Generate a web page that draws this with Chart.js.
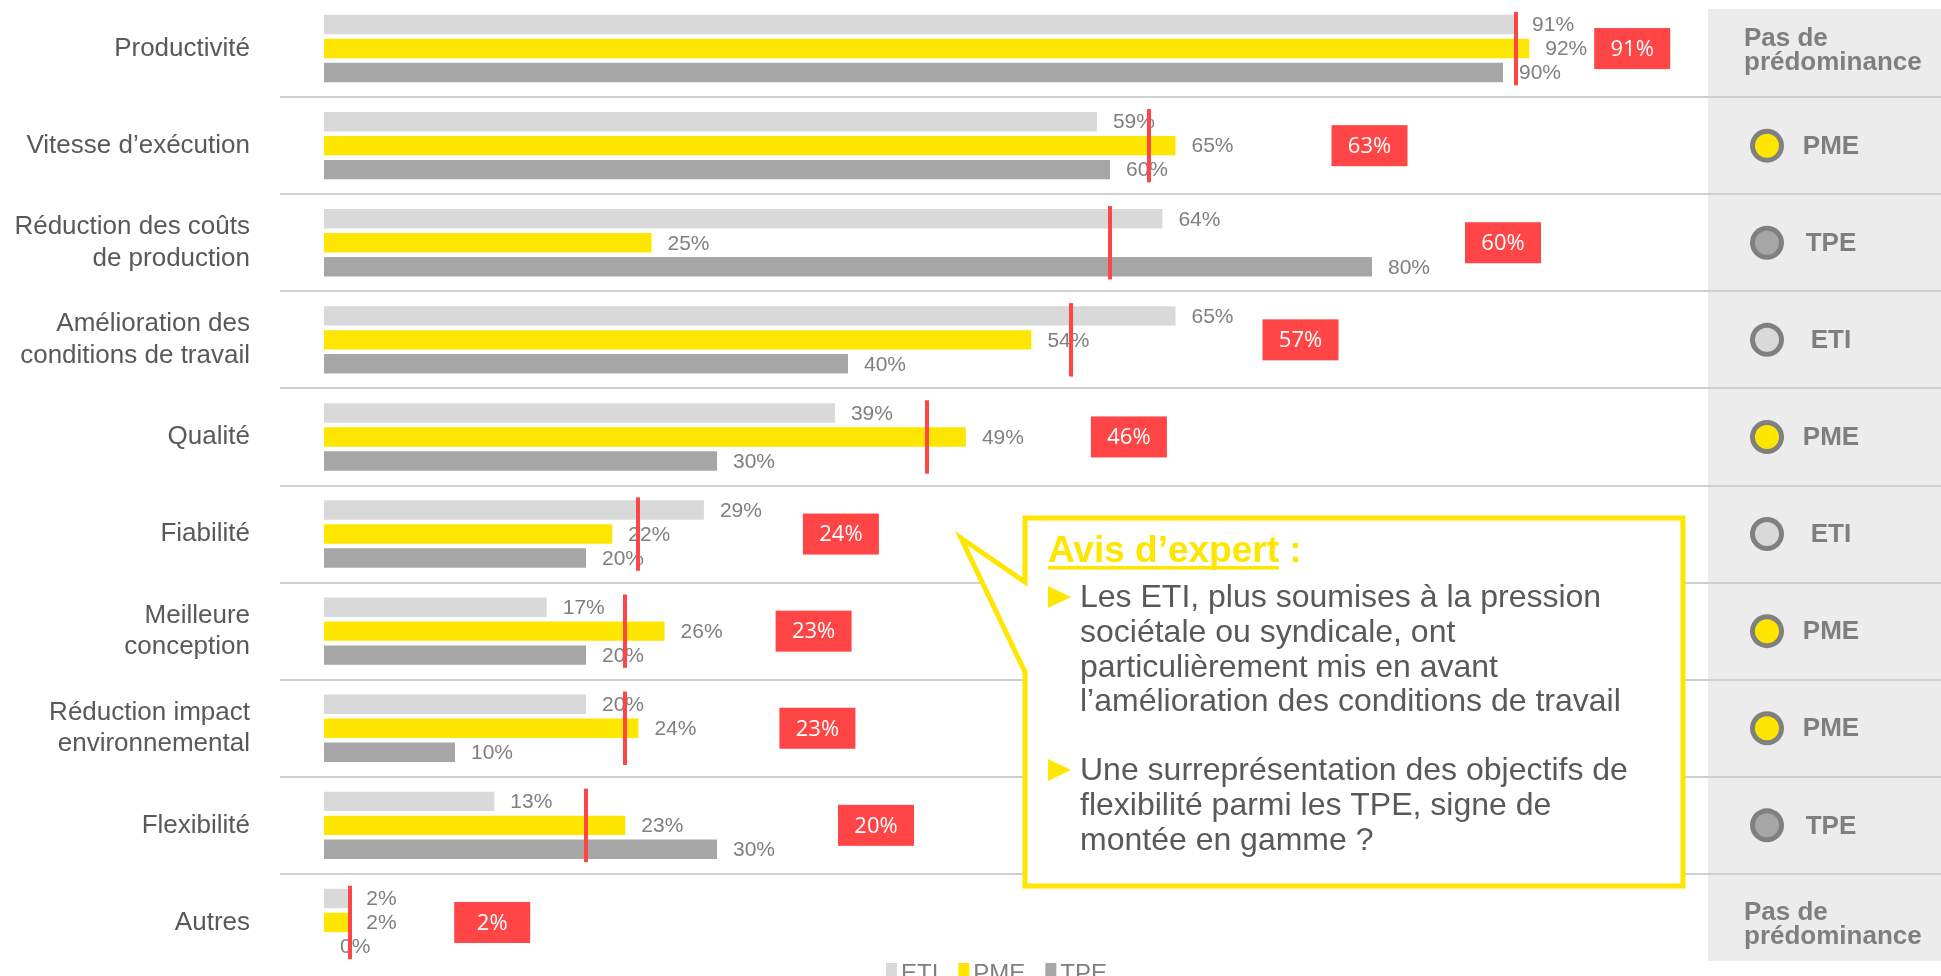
<!DOCTYPE html>
<html lang="fr">
<head>
<meta charset="utf-8">
<title>Objectifs par taille d’entreprise</title>
<script src="https://cdn.jsdelivr.net/npm/chart.js@4.4.1/dist/chart.umd.min.js"></script>
<style>
  html, body { margin: 0; padding: 0; background: #ffffff; overflow: hidden; }
  #wrap { width: 1941px; height: 976px; position: relative; }
  canvas { display: block; }
</style>
</head>
<body>
<div id="wrap"><canvas id="chart" width="1941" height="976"></canvas></div>
<script>
// ---- Data ----
const categories = [
  'Productivité',
  'Vitesse d’exécution',
  ['Réduction des coûts', 'de production'],
  ['Amélioration des', 'conditions de travail'],
  'Qualité',
  'Fiabilité',
  ['Meilleure', 'conception'],
  ['Réduction impact', 'environnemental'],
  'Flexibilité',
  'Autres'
];
const seriesNames = ['ETI', 'PME', 'TPE'];
const etiValues = [91, 59, 64, 65, 39, 29, 17, 20, 13, 2];
const pmeValues = [92, 65, 25, 54, 49, 22, 26, 24, 23, 2];
const tpeValues = [90, 60, 80, 40, 30, 20, 20, 10, 30, 0];
const averageValues = [91, 63, 60, 57, 46, 24, 23, 23, 20, 2];
const dominantGroup = [null, 'PME', 'TPE', 'ETI', 'PME', 'ETI', 'PME', 'PME', 'TPE', null];
const noDominanceLabel = ['Pas de', 'prédominance'];
const expertTitle = 'Avis d’expert';
const expertPoints = [
  ['Les ETI, plus soumises à la pression', 'sociétale ou syndicale, ont', 'particulièrement mis en avant', 'l’amélioration des conditions de travail'],
  ['Une surreprésentation des objectifs de', 'flexibilité parmi les TPE, signe de', 'montée en gamme ?']
];

// ---- Styling / layout ----
const FONT = '"Liberation Sans", Arial, Helvetica, sans-serif';
const BADGE_FONT = '"Open Sans", "Noto Sans", sans-serif';
const SERIES_COLORS = { ETI: '#D9D9D9', PME: '#FFE600', TPE: '#A6A6A6' };
const RED = '#FF4545';
const LABEL_GREY = '#7F7F7F';
const TEXT_DARK = '#595959';
const PANEL = { x: 1708, y: 9, bottom: 961, fill: '#ECECEC' };
const RULE = { left: 280, color: '#CFCFCF', width: 2 };
const BADGE = { w: 76, h: 41 };
const BADGE_GAP = [65, 156, 93, 87, 125, 99, 111, 141, 121, 104];
const AXIS_LEFT = 324;
const AXIS_RIGHT = 1634;

const seriesValues = [etiValues, pmeValues, tpeValues];

const overlay = {
  id: 'overlay',
  beforeDraw(chart) {
    const { ctx, scales: { y } } = chart;
    ctx.save();
    ctx.fillStyle = '#ffffff';
    ctx.fillRect(0, 0, chart.width, chart.height);
    // right-hand summary column
    ctx.fillStyle = PANEL.fill;
    ctx.fillRect(PANEL.x, PANEL.y, chart.width - PANEL.x, PANEL.bottom - PANEL.y);
    // row separators
    ctx.strokeStyle = RULE.color;
    ctx.lineWidth = RULE.width;
    for (let i = 0; i < categories.length - 1; i++) {
      const yy = Math.round((y.getPixelForValue(i) + y.getPixelForValue(i + 1)) / 2);
      ctx.beginPath();
      ctx.moveTo(RULE.left, yy);
      ctx.lineTo(chart.width, yy);
      ctx.stroke();
    }
    ctx.restore();
  },
  afterDatasetsDraw(chart) {
    const { ctx, scales: { x, y } } = chart;
    ctx.save();

    // value labels next to each bar
    ctx.font = '21px ' + FONT;
    ctx.fillStyle = LABEL_GREY;
    ctx.textAlign = 'left';
    ctx.textBaseline = 'middle';
    chart.data.datasets.forEach((ds, di) => {
      chart.getDatasetMeta(di).data.forEach((bar, i) => {
        ctx.fillText(ds.data[i] + '%', bar.x + 16, bar.y + 1);
      });
    });

    // average markers (vertical red line) and average badges
    categories.forEach((c, i) => {
      const first = chart.getDatasetMeta(0).data[i];
      const last = chart.getDatasetMeta(2).data[i];
      const y0 = first.y - first.height / 2 - 3;
      const y1 = last.y + last.height / 2 + 3;
      const xa = x.getPixelForValue(averageValues[i]);
      ctx.fillStyle = RED;
      ctx.fillRect(Math.round(xa) - 2, y0, 4, y1 - y0);

      const maxVal = Math.max(etiValues[i], pmeValues[i], tpeValues[i]);
      const bx = x.getPixelForValue(maxVal) + BADGE_GAP[i];
      const cy = y.getPixelForValue(i);
      ctx.fillRect(bx, cy - BADGE.h / 2, BADGE.w, BADGE.h);
      ctx.fillStyle = '#ffffff';
      ctx.font = '22px ' + BADGE_FONT;
      ctx.textAlign = 'center';
      ctx.fillText(averageValues[i] + '%', bx + BADGE.w / 2, cy + 1);
      ctx.textAlign = 'left';
      ctx.font = '21px ' + FONT;
    });

    // predominance column
    categories.forEach((c, i) => {
      const cy = y.getPixelForValue(i);
      const g = dominantGroup[i];
      ctx.fillStyle = LABEL_GREY;
      ctx.font = 'bold 26px ' + FONT;
      if (!g) {
        ctx.textAlign = 'left';
        ctx.fillText(noDominanceLabel[0], 1744, cy - 10);
        ctx.fillText(noDominanceLabel[1], 1744, cy + 14);
      } else {
        ctx.beginPath();
        ctx.arc(1767, cy, 17, 0, Math.PI * 2);
        ctx.fillStyle = '#808080';
        ctx.fill();
        ctx.beginPath();
        ctx.arc(1767, cy, 12, 0, Math.PI * 2);
        ctx.fillStyle = SERIES_COLORS[g];
        ctx.fill();
        ctx.fillStyle = LABEL_GREY;
        ctx.textAlign = 'center';
        ctx.fillText(g, 1831, cy + 1);
      }
    });

    // legend
    ctx.font = '24px ' + FONT;
    ctx.textAlign = 'left';
    ctx.textBaseline = 'alphabetic';
    let lx = 886;
    chart.data.datasets.forEach((ds) => {
      ctx.fillStyle = ds.backgroundColor;
      ctx.fillRect(lx, 963, 11, 13);
      ctx.fillStyle = LABEL_GREY;
      ctx.fillText(ds.label, lx + 15, 981);
      lx += 15 + ctx.measureText(ds.label).width + 20;
    });

    // expert call-out
    ctx.beginPath();
    ctx.moveTo(1025, 518);
    ctx.lineTo(1683, 518);
    ctx.lineTo(1683, 886);
    ctx.lineTo(1025, 886);
    ctx.lineTo(1025, 672);
    ctx.lineTo(961, 538);
    ctx.lineTo(1025, 582);
    ctx.closePath();
    ctx.fillStyle = '#ffffff';
    ctx.fill();
    ctx.lineWidth = 5;
    ctx.lineJoin = 'miter';
    ctx.strokeStyle = SERIES_COLORS.PME;
    ctx.stroke();

    ctx.font = 'bold 37px ' + FONT;
    ctx.fillStyle = SERIES_COLORS.PME;
    ctx.fillText(expertTitle, 1048, 562);
    const tw = ctx.measureText(expertTitle).width;
    ctx.fillRect(1048, 566, tw, 3.5);
    ctx.fillText(' :', 1048 + tw, 562);

    const baselines = [[607, 642, 677, 711], [780, 815, 850]];
    ctx.font = '32px ' + FONT;
    expertPoints.forEach((lines, p) => {
      const b0 = baselines[p][0];
      ctx.fillStyle = SERIES_COLORS.PME;
      ctx.beginPath();
      ctx.moveTo(1048, b0 - 21);
      ctx.lineTo(1071, b0 - 10);
      ctx.lineTo(1048, b0 + 1);
      ctx.closePath();
      ctx.fill();
      ctx.fillStyle = TEXT_DARK;
      lines.forEach((t, k) => ctx.fillText(t, 1080, baselines[p][k]));
    });

    ctx.restore();
  }
};

new Chart(document.getElementById('chart'), {
  type: 'bar',
  data: {
    labels: categories,
    datasets: seriesNames.map((name, k) => ({
      label: name,
      data: seriesValues[k],
      backgroundColor: SERIES_COLORS[name],
      borderWidth: 0,
      categoryPercentage: 0.741,
      barPercentage: 0.81
    }))
  },
  options: {
    indexAxis: 'y',
    responsive: false,
    devicePixelRatio: 1,
    animation: false,
    layout: { padding: { left: 0, right: 1941 - AXIS_RIGHT, top: 0, bottom: 5 } },
    plugins: { legend: { display: false }, tooltip: { enabled: false } },
    scales: {
      x: { min: 0, max: 100, display: false },
      y: {
        grid: { display: false },
        border: { display: false },
        ticks: {
          color: TEXT_DARK,
          font: { family: FONT, size: 26, lineHeight: 1.2 },
          padding: 66
        },
        afterFit(scale) {
          scale.width = AXIS_LEFT;
          scale.paddingTop = 0;
          scale.paddingBottom = 0;
        }
      }
    }
  },
  plugins: [overlay]
});
</script>
</body>
</html>
